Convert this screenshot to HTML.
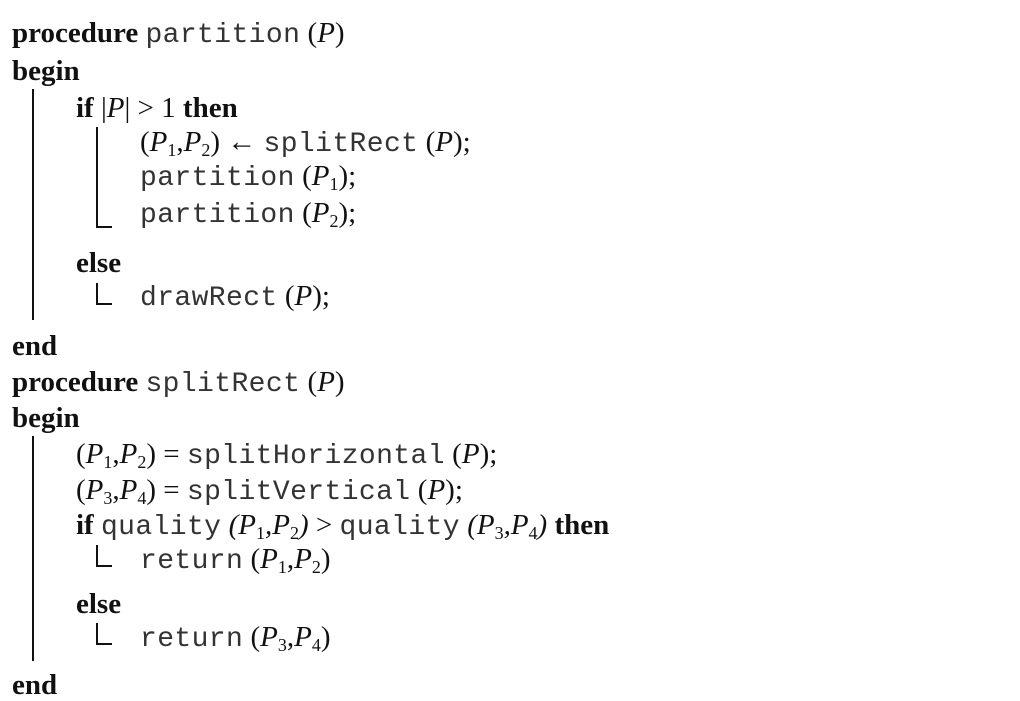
<!DOCTYPE html>
<html><head><meta charset="utf-8"><style>
html,body{margin:0;padding:0;background:#fff;}
body{width:1020px;height:699px;position:relative;overflow:hidden;font-family:"Liberation Serif",serif;font-size:29px;color:#111;}
.l{position:absolute;line-height:28px;white-space:nowrap;}
b{font-weight:bold;}
.m{font-family:"Liberation Mono",monospace;font-size:28px;letter-spacing:0.4px;color:#333;}
i{font-style:italic;}
sub{font-size:18px;vertical-align:-5px;line-height:0;font-style:normal;}
.v{position:absolute;background:#111;width:2px;}
.h{position:absolute;background:#111;height:2px;}
</style></head><body>
<div class="l" style="left:12px;top:19px"><b>procedure</b> <span class="m">partition</span> (<i>P</i>)</div>
<div class="l" style="left:12px;top:57px"><b>begin</b></div>
<div class="v" style="left:32px;top:89px;height:231px"></div>
<div class="l" style="left:76px;top:94px"><b>if</b> |<i>P</i>| &gt; 1 <b>then</b></div>
<div class="v" style="left:96px;top:127px;height:101px"></div>
<div class="h" style="left:96px;top:226px;width:16px"></div>
<div class="l" style="left:140px;top:128px">(<i>P</i><sub>1</sub>,<i>P</i><sub>2</sub>) ← <span class="m">splitRect</span> (<i>P</i>);</div>
<div class="l" style="left:140px;top:162px"><span class="m">partition</span> (<i>P</i><sub>1</sub>);</div>
<div class="l" style="left:140px;top:199px"><span class="m">partition</span> (<i>P</i><sub>2</sub>);</div>
<div class="l" style="left:76px;top:249px"><b>else</b></div>
<div class="v" style="left:96px;top:283px;height:22px"></div>
<div class="h" style="left:96px;top:303px;width:16px"></div>
<div class="l" style="left:140px;top:282px"><span class="m">drawRect</span> (<i>P</i>);</div>
<div class="l" style="left:12px;top:332px"><b>end</b></div>
<div class="l" style="left:12px;top:368px"><b>procedure</b> <span class="m">splitRect</span> (<i>P</i>)</div>
<div class="l" style="left:12px;top:404px"><b>begin</b></div>
<div class="v" style="left:32px;top:436px;height:225px"></div>
<div class="l" style="left:76px;top:440px">(<i>P</i><sub>1</sub>,<i>P</i><sub>2</sub>) = <span class="m">splitHorizontal</span> (<i>P</i>);</div>
<div class="l" style="left:76px;top:476px">(<i>P</i><sub>3</sub>,<i>P</i><sub>4</sub>) = <span class="m">splitVertical</span> (<i>P</i>);</div>
<div class="l" style="left:76px;top:511px"><b>if</b> <span class="m">quality</span> <i>(P<sub>1</sub>,P<sub>2</sub>)</i> &gt; <span class="m">quality</span> <i>(P<sub>3</sub>,P<sub>4</sub>)</i> <b>then</b></div>
<div class="v" style="left:96px;top:545px;height:22px"></div>
<div class="h" style="left:96px;top:565px;width:16px"></div>
<div class="l" style="left:140px;top:545px"><span class="m">return</span> (<i>P</i><sub>1</sub>,<i>P</i><sub>2</sub>)</div>
<div class="l" style="left:76px;top:590px"><b>else</b></div>
<div class="v" style="left:96px;top:623px;height:22px"></div>
<div class="h" style="left:96px;top:643px;width:16px"></div>
<div class="l" style="left:140px;top:623px"><span class="m">return</span> (<i>P</i><sub>3</sub>,<i>P</i><sub>4</sub>)</div>
<div class="l" style="left:12px;top:671px"><b>end</b></div>
</body></html>
